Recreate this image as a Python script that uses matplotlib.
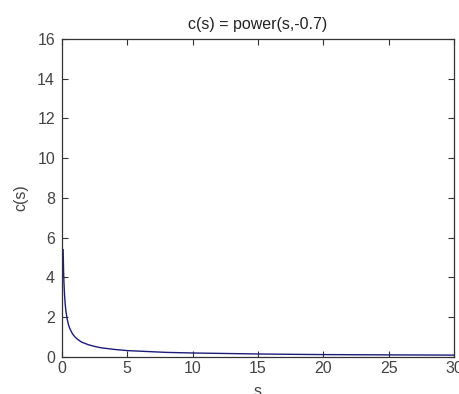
import numpy as np
import matplotlib
matplotlib.use("Agg")
import matplotlib.pyplot as plt

# points
s_vals = [0.09, 0.12, 0.15, 0.2, 0.25, 0.3, 0.4, 0.5, 0.6, 0.8, 1.0, 1.25, 1.5, 2.0,
          2.5, 3.0, 4.0, 5.0, 6.0, 7.0, 8.0, 10.0, 12.0, 15.0, 18.0, 20.0, 25.0, 30.0]
c_vals = [5.40, 4.41, 3.77, 3.09, 2.64, 2.32, 1.90, 1.62, 1.43, 1.17, 1.00, 0.86, 0.75, 0.62,
          0.53, 0.46, 0.38, 0.32, 0.29, 0.26, 0.23, 0.20, 0.18, 0.15, 0.13, 0.12, 0.105, 0.093]

x_ticks = [0, 5, 10, 15, 20, 25, 30]
y_ticks = [0, 2, 4, 6, 8, 10, 12, 14, 16]

plt.rcParams['font.family'] = ['Liberation Sans', 'DejaVu Sans']

fig = plt.figure(figsize=(4.59, 3.94), dpi=100)
ax = fig.add_axes([0.135, 0.094, 0.854, 0.807])
ax.plot(s_vals, c_vals, color='#1c1c78', linewidth=1.0)

ax.set_xlim(0, 30)
ax.set_ylim(0, 16)
ax.set_xticks(x_ticks)
ax.set_yticks(y_ticks)
ax.tick_params(direction='in', top=True, right=True, length=4, width=0.8,
               labelsize=11.5, colors='#333333', labelcolor='#444444')
ax.tick_params(axis='y', pad=5)
ax.tick_params(axis='x', pad=3)
for sp in ax.spines.values():
    sp.set_color('#333333')
    sp.set_linewidth(0.9)

ax.set_title('c(s) = power(s,-0.7)', fontsize=11.5, color='#222222', pad=7)
ax.set_xlabel('s', fontsize=11.5, color='#444444', labelpad=6)
ax.set_ylabel('c(s)', fontsize=11.5, color='#444444', labelpad=6)

fig.savefig('out.png', dpi=100)
